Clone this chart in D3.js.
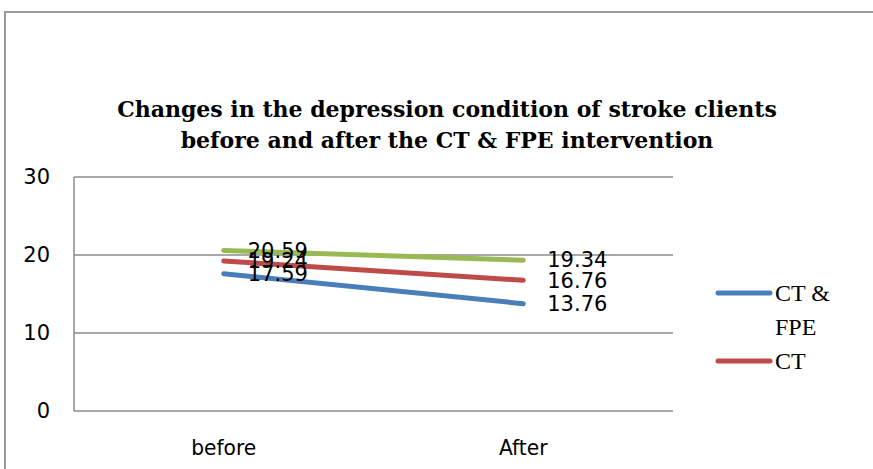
<!DOCTYPE html>
<html>
<head>
<meta charset="utf-8">
<script src="https://cdn.jsdelivr.net/npm/d3@7"></script>
<style>
  html, body { margin: 0; padding: 0; background: #fff; overflow: hidden; }
</style>
</head>
<body>
<div id="chart"></div>
<script>
// Data
const categories = ['before', 'After'];
const seriesNames = ['CT & FPE', 'CT', 'FPE'];
const ctFpe = [17.59, 13.76];
const ct = [19.24, 16.76];
const fpe = [20.59, 19.34];
const yTicks = [0, 10, 20, 30];
const titleLines = [
  'Changes in the depression condition of stroke clients',
  'before and after the CT & FPE intervention'
];

const W = 873, H = 469;
const colors = ['#4a7ebb', '#be4b48', '#98b954'];
const margin = { left: 74, top: 177, right: 200, bottom: 58 };

const svg = d3.select('#chart').append('svg')
  .attr('width', W)
  .attr('height', H);

// outer chart frame (runs off the window on the right and bottom)
svg.append('rect')
  .attr('x', 5).attr('y', 12)
  .attr('width', 900).attr('height', 500)
  .attr('fill', 'none')
  .attr('stroke', '#9a9a9a')
  .attr('stroke-width', 2);

const x = d3.scaleBand()
  .domain(categories)
  .range([margin.left, W - margin.right]);

const y = d3.scaleLinear()
  .domain([0, 30])
  .range([H - margin.bottom, margin.top]);

// gridlines
svg.append('g')
  .selectAll('line')
  .data(yTicks)
  .join('line')
  .attr('x1', margin.left)
  .attr('x2', W - margin.right)
  .attr('y1', d => y(d))
  .attr('y2', d => y(d))
  .attr('stroke', '#8c8c8c')
  .attr('stroke-width', 1.5);

// left axis line
svg.append('line')
  .attr('x1', margin.left).attr('x2', margin.left)
  .attr('y1', y(30)).attr('y2', y(0))
  .attr('stroke', '#8c8c8c')
  .attr('stroke-width', 1.5);

// y tick labels
svg.append('g')
  .selectAll('text')
  .data(yTicks)
  .join('text')
  .attr('x', 50)
  .attr('y', d => y(d))
  .attr('dy', '0.35em')
  .attr('text-anchor', 'end')
  .attr('font-family', 'DejaVu Sans, sans-serif')
  .attr('font-size', 21)
  .attr('fill', '#000')
  .text(d => d);

// x tick labels
svg.append('g')
  .selectAll('text')
  .data(categories)
  .join('text')
  .attr('x', d => x(d) + x.bandwidth() / 2)
  .attr('y', 455)
  .attr('text-anchor', 'middle')
  .attr('font-family', 'DejaVu Sans, sans-serif')
  .attr('font-size', 22)
  .attr('transform', d => {
    const cx = x(d) + x.bandwidth() / 2;
    return `translate(${cx},0) scale(0.92,1) translate(${-cx},0)`;
  })
  .text(d => d);

// title
svg.append('g')
  .selectAll('text')
  .data(titleLines)
  .join('text')
  .attr('x', 447)
  .attr('y', (d, i) => 117 + i * 31)
  .attr('text-anchor', 'middle')
  .attr('font-family', 'DejaVu Serif, serif')
  .attr('font-weight', 'bold')
  .attr('font-size', 22)
  .text(d => d);

// lines
const series = [ctFpe, ct, fpe];
const line = d3.line()
  .x((d, i) => x(categories[i]) + x.bandwidth() / 2)
  .y(d => y(d));

svg.append('g')
  .selectAll('path')
  .data(series.slice().reverse())
  .join('path')
  .attr('d', line)
  .attr('fill', 'none')
  .attr('stroke', (d, i) => colors[series.length - 1 - i])
  .attr('stroke-width', 5)
  .attr('stroke-linecap', 'round');

// data labels (they overlap at "before" in the original too)
const labels = [];
series.forEach(s => s.forEach((v, i) => labels.push({ v, i })));
svg.append('g')
  .selectAll('text')
  .data(labels)
  .join('text')
  .attr('x', d => x(categories[d.i]) + x.bandwidth() / 2 + 24)
  .attr('y', d => y(d.v))
  .attr('dy', '0.35em')
  .attr('font-family', 'DejaVu Sans, sans-serif')
  .attr('font-size', 21)
  .attr('fill', '#000')
  .text(d => d.v.toFixed(2));

// legend (third entry falls outside the frame)
const legend = svg.append('g');
const legendRows = [
  { name: 'CT &', sub: 'FPE', color: colors[0], y: 293 },
  { name: 'CT', sub: null, color: colors[1], y: 361 }
];
legendRows.forEach(r => {
  legend.append('line')
    .attr('x1', 718).attr('x2', 770)
    .attr('y1', r.y).attr('y2', r.y)
    .attr('stroke', r.color)
    .attr('stroke-width', 5)
    .attr('stroke-linecap', 'round');
  legend.append('text')
    .attr('x', 775).attr('y', r.y)
    .attr('dy', '0.35em')
    .attr('font-family', 'Liberation Serif, DejaVu Serif, serif')
    .attr('font-size', 24)
    .text(r.name);
  if (r.sub) {
    legend.append('text')
      .attr('x', 775).attr('y', r.y + 34)
      .attr('dy', '0.35em')
      .attr('font-family', 'Liberation Serif, DejaVu Serif, serif')
      .attr('font-size', 24)
      .text(r.sub);
  }
});
</script>
</body>
</html>
